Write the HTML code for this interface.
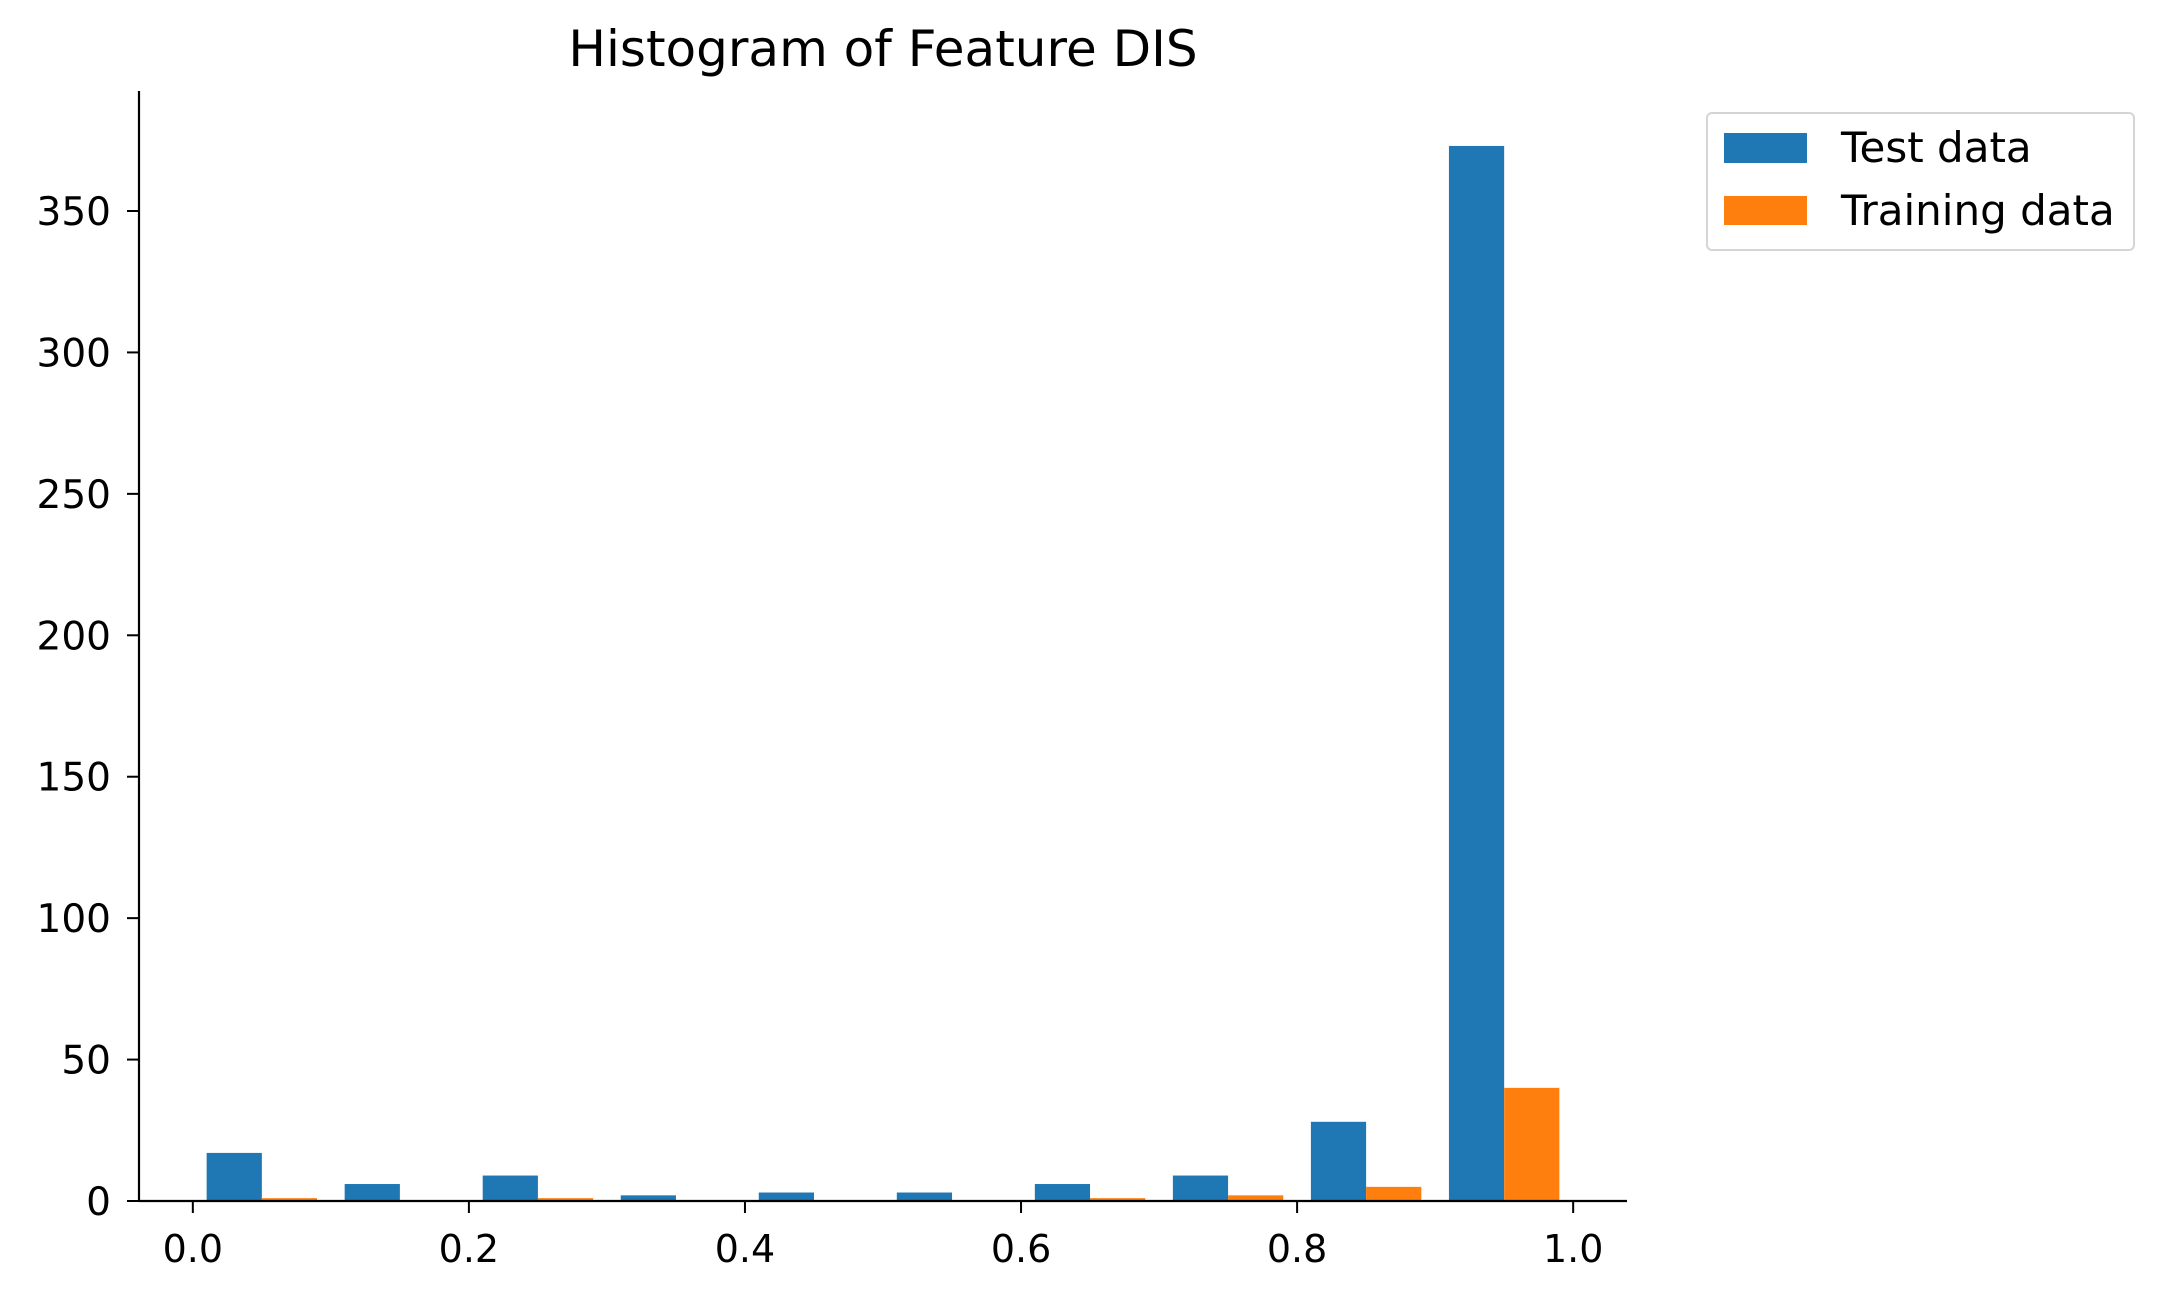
<!DOCTYPE html>
<html><head><meta charset="utf-8"><style>
html,body{margin:0;padding:0;background:#fff;}
svg{display:block;font-family:"DejaVu Sans","Liberation Sans",sans-serif;}
</style></head><body>
<svg id="chart" width="2164" height="1302" viewBox="0 0 2164 1302" xmlns="http://www.w3.org/2000/svg">
<rect width="2164" height="1302" fill="#fff"/>
<text x="883" y="66" text-anchor="middle" font-size="50" fill="#000">Histogram of Feature DIS</text>
<g id="bars"></g>
<g id="axes"></g>
<g>
<rect x="1707" y="113" width="427" height="137" rx="5" fill="#fff" stroke="#d5d5d5" stroke-width="2"/>
<rect x="1724" y="133" width="83" height="30" fill="#1f77b4"/>
<text x="1841" y="162" font-size="42" fill="#000">Test data</text>
<rect x="1724" y="196" width="83" height="29" fill="#ff7f0e"/>
<text x="1841" y="225" font-size="42" fill="#000">Training data</text>
</g>
</svg>
<script>
const binEdges = [0,0.1,0.2,0.3,0.4,0.5,0.6,0.7,0.8,0.9];
const testCounts = [17,6,9,2,3,3,6,9,28,373];
const trainCounts = [1,0,1,0,0,0,1,2,5,40];
const xTicks = [0,0.2,0.4,0.6,0.8,1.0];
const xTickLabels = ["0.0","0.2","0.4","0.6","0.8","1.0"];
const yTicks = [0,50,100,150,200,250,300,350];

const NS="http://www.w3.org/2000/svg";
const L=139,R=1627,T=91,B=1201;
const xMin=-0.039,xMax=1.039;
const yPer=(1201-211)/350;
function xs(v){return L+(v-xMin)/(xMax-xMin)*(R-L);}
function ys(v){return B-v*yPer;}
function mk(tag,attrs,parent){const e=document.createElementNS(NS,tag);for(const k in attrs)e.setAttribute(k,attrs[k]);parent.appendChild(e);return e;}
const bars=document.getElementById('bars');
const axes=document.getElementById('axes');
binEdges.forEach((e,i)=>{
  const x1=xs(e+0.01),x2=xs(e+0.05),x3=xs(e+0.09);
  const b1=mk('rect',{x:x1,y:ys(testCounts[i]),width:x2-x1,height:ys(0)-ys(testCounts[i]),fill:'#1f77b4'},bars);
  
  
  const b2=mk('rect',{x:x2,y:ys(trainCounts[i]),width:x3-x2,height:ys(0)-ys(trainCounts[i]),fill:'#ff7f0e'},bars);
  
  
});
const ls=mk('line',{x1:L,y1:T,x2:L,y2:B,stroke:'#000','stroke-width':2.2},axes);


const bs=mk('line',{x1:L,y1:B,x2:R,y2:B,stroke:'#000','stroke-width':2.2},axes);


xTicks.forEach((v,i)=>{
  const x=xs(v);
  const t=mk('line',{x1:x,y1:B,x2:x,y2:B+12,stroke:'#000','stroke-width':2},axes);
  
  
  const tx=mk('text',{x:x,y:1262,'text-anchor':'middle','font-size':'38',fill:'#000'},axes);
  tx.textContent=xTickLabels[i];
  
  
});
yTicks.forEach(v=>{
  const y=ys(v);
  const t=mk('line',{x1:L-12,y1:y,x2:L,y2:y,stroke:'#000','stroke-width':2},axes);
  
  
  const tx=mk('text',{x:L-28,y:y+14,'text-anchor':'end','font-size':'39',fill:'#000'},axes);
  tx.textContent=String(v);
  
  
});
</script>
</body></html>
